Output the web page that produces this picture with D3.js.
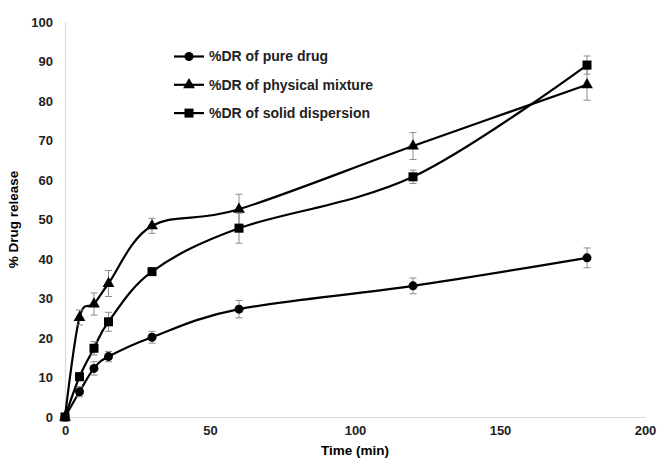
<!DOCTYPE html>
<html>
<head>
<meta charset="utf-8">
<script src="https://cdn.jsdelivr.net/npm/d3@7"></script>
<style>
  body { margin: 0; background: #fff; }
  svg text { font-family: "Liberation Sans", Arial, sans-serif; }
</style>
</head>
<body>
<div id="chart"></div>
<script>
// data
const times = [0, 5, 10, 15, 30, 60, 120, 180];
const pureDrug = [0, 6.4, 12.3, 15.3, 20.2, 27.3, 33.2, 40.3];
const pureDrugErr = [0, 1.3, 1.7, 1.3, 1.5, 2.2, 2.0, 2.5];
const physMix = [0, 25.2, 28.6, 33.8, 48.4, 52.6, 68.6, 84.1];
const physMixErr = [0, 1.9, 2.8, 3.3, 1.9, 3.8, 3.4, 3.9];
const solidDisp = [0, 10.2, 17.4, 24.1, 36.8, 47.8, 60.8, 89.1];
const solidDispErr = [0, 1.0, 1.7, 2.4, 0.9, 3.8, 1.7, 2.3];
const seriesNames = ['%DR of pure drug', '%DR of physical mixture', '%DR of solid dispersion'];
const xTicks = [0, 50, 100, 150, 200];
const yTicks = [0, 10, 20, 30, 40, 50, 60, 70, 80, 90, 100];

class ReleasePlot {
    width; height; margin;
    svg; chart;
    scaleX; scaleY;

    constructor(container, width, height, margin){
        this.width = width;
        this.height = height;
        this.margin = margin; // top, bottom, left, right
        this.svg = d3.select(container).append('svg')
            .attr('width', width)
            .attr('height', height);
        this.chart = this.svg.append('g')
            .attr('transform', `translate(${margin[2]},${margin[0]})`);
    }

    #updateScales(){
        let chartWidth = this.width - this.margin[2] - this.margin[3];
        let chartHeight = this.height - this.margin[0] - this.margin[1];
        this.scaleX = d3.scaleLinear([0, 200], [0, chartWidth]);
        this.scaleY = d3.scaleLinear([0, 100], [chartHeight, 0]);
    }

    #updateAxes(){
        let h = this.scaleY(0);
        // plain grey axis lines, no tick marks
        let ax = this.chart.append('g').attr('transform', `translate(0,${h})`)
            .call(d3.axisBottom(this.scaleX).tickValues(xTicks).tickSize(0).tickPadding(9));
        let ay = this.chart.append('g')
            .call(d3.axisLeft(this.scaleY).tickValues(yTicks).tickSize(0).tickPadding(12));
        [ax, ay].forEach(a => {
            a.select('.domain').attr('stroke', '#d9d9d9').attr('stroke-width', 1.2);
            a.selectAll('text')
                .style('font-family', '"Liberation Sans", Arial, sans-serif')
                .style('font-size', '13px').style('font-weight', 'bold').attr('fill', '#222');
        });

        this.svg.append('text')
            .attr('x', this.margin[2] + this.scaleX(100)).attr('y', this.height - 6)
            .attr('text-anchor', 'middle')
            .style('font-size', '13.5px').style('font-weight', 'bold')
            .text('Time (min)');
        this.svg.append('text')
            .attr('transform', `translate(18,${this.margin[0] + this.scaleY(50)})rotate(-90)`)
            .attr('text-anchor', 'middle')
            .style('font-size', '13.5px').style('font-weight', 'bold')
            .text('% Drug release');
    }

    #drawMarker(sel, type, size){
        if (type === 'circle') sel.append('circle').attr('r', size * 0.5);
        else if (type === 'square') sel.append('rect')
            .attr('x', -size/2).attr('y', -size/2).attr('width', size).attr('height', size);
        else sel.append('path').attr('d', d3.symbol(d3.symbolTriangle, size * size * 0.55)());
    }

    #drawSeries(values, errors, type){
        let pts = times.map((t, i) => [t, values[i], errors[i]]);
        let line = d3.line()
            .x(d => this.scaleX(d[0])).y(d => this.scaleY(d[1]))
            .curve(d3.curveCardinal.tension(0));
        this.chart.append('path').datum(pts)
            .attr('d', line).attr('fill', 'none')
            .attr('stroke', '#000').attr('stroke-width', 2.2);

        let eb = this.chart.append('g').attr('stroke', '#8c8c8c').attr('stroke-width', 1);
        pts.filter(d => d[2] > 0).forEach(d => {
            let x = this.scaleX(d[0]), y0 = this.scaleY(d[1] - d[2]), y1 = this.scaleY(d[1] + d[2]);
            eb.append('line').attr('x1', x).attr('x2', x).attr('y1', y0).attr('y2', y1);
            eb.append('line').attr('x1', x - 3.5).attr('x2', x + 3.5).attr('y1', y0).attr('y2', y0);
            eb.append('line').attr('x1', x - 3.5).attr('x2', x + 3.5).attr('y1', y1).attr('y2', y1);
        });

        pts.forEach(d => {
            let g = this.chart.append('g')
                .attr('transform', `translate(${this.scaleX(d[0])},${this.scaleY(d[1])})`)
                .attr('fill', '#000');
            this.#drawMarker(g, type, type === 'triangle' ? 10.5 : 9);
        });
    }

    #drawLegend(){
        let types = ['circle', 'triangle', 'square'];
        let lg = this.svg.append('g');
        seriesNames.forEach((name, i) => {
            let y = 56.5 + i * 28.3;
            let row = lg.append('g').attr('transform', `translate(174,${y})`);
            row.append('line').attr('x1', 0).attr('x2', 30).attr('stroke', '#000').attr('stroke-width', 2.2);
            let m = row.append('g').attr('transform', 'translate(15,0)').attr('fill', '#000');
            this.#drawMarker(m, types[i], types[i] === 'triangle' ? 10.5 : 9);
            row.append('text').attr('x', 35).attr('dy', '0.35em')
                .style('font-size', '14px').style('font-weight', 'bold').attr('fill', '#222')
                .text(name);
        });
    }

    render(){
        this.#updateScales();
        this.#updateAxes();
        this.#drawSeries(pureDrug, pureDrugErr, 'circle');
        this.#drawSeries(physMix, physMixErr, 'triangle');
        this.#drawSeries(solidDisp, solidDispErr, 'square');
        this.#drawLegend();
        return this;
    }
}

new ReleasePlot('#chart', 659, 461, [22, 44, 65, 14]).render();
</script>
</body>
</html>
